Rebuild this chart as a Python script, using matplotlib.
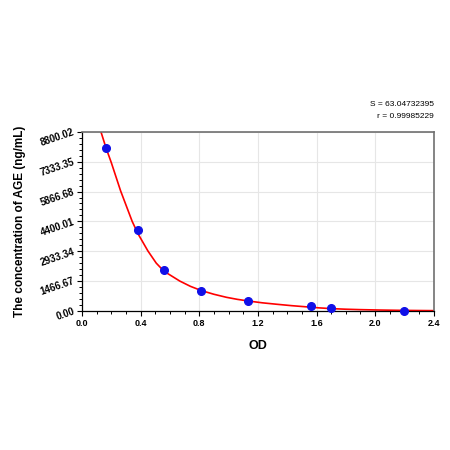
import numpy as np
import matplotlib.pyplot as plt
from matplotlib.ticker import AutoMinorLocator

plt.rcParams['font.family'] = ['Liberation Sans', 'DejaVu Sans']

# standard points (OD vs concentration)
od = [0.165, 0.380, 0.560, 0.815, 1.136, 1.563, 1.697, 2.195]
conc = [8000, 4000, 2000, 1000, 500, 250, 125, 0]

# fitted curve
curve_od = [0.130, 0.165, 0.200, 0.264, 0.343, 0.382, 0.450, 0.507, 0.560,
            0.668, 0.740, 0.815, 0.900, 0.986, 1.060, 1.134, 1.230, 1.327,
            1.430, 1.543, 1.620, 1.700, 1.800, 1.895, 2.030, 2.168, 2.280, 2.400]
curve_conc = [8800, 8000, 7300, 5900, 4400, 3800, 2950, 2350, 1950,
              1467, 1210, 1000, 820, 670, 570, 490, 400, 330,
              260, 195, 150, 115, 85, 65, 45, 30, 22, 15]

yticks = [0.00, 1466.67, 2933.34, 4400.01, 5866.68, 7333.35, 8800.02]
xticks = [0.0, 0.4, 0.8, 1.2, 1.6, 2.0, 2.4]

fig = plt.figure(figsize=(4.5, 4.5), dpi=100)
ax = fig.add_axes([0.182, 0.309, 0.782, 0.398])

ax.grid(True, color='#e6e6e6', linewidth=0.8, zorder=0)
ax.plot(curve_od, curve_conc, color='red', linewidth=1.2, zorder=2)
ax.plot(od, conc, 'o', color='#1010e8', markersize=5.5, zorder=3, clip_on=False)

ax.set_xlim(0, 2.4)
ax.set_ylim(0, 8800.02)
ax.set_xticks(xticks)
ax.set_xticklabels([f'{t:.1f}' for t in xticks], fontsize=6.5, fontweight='bold')
ax.set_yticks(yticks)
ax.set_yticklabels([f'{t:.2f}' for t in yticks], fontsize=7, fontweight='bold',
                   rotation=19, ha='right', va='center', rotation_mode='anchor')
ax.xaxis.set_minor_locator(AutoMinorLocator(4))
ax.yaxis.set_minor_locator(AutoMinorLocator(5))
ax.tick_params(which='major', length=3.5, width=0.8, direction='out')
ax.tick_params(axis='y', which='major', pad=2)
ax.tick_params(axis='x', which='major', pad=2)
ax.tick_params(which='minor', length=2, width=0.7, direction='out')
ax.tick_params(top=False, right=False, which='both')

for s in ['top', 'right']:
    ax.spines[s].set_color('#707070')
    ax.spines[s].set_linewidth(1.2)
for s in ['left', 'bottom']:
    ax.spines[s].set_color('black')
    ax.spines[s].set_linewidth(0.9)

ax.set_xlabel('OD', fontsize=9, fontweight='bold', labelpad=9)
ax.set_ylabel('The concentration of AGE (ng/mL)', fontsize=8.5, fontweight='bold', labelpad=9)

fig.text(0.964, 0.767, 'S = 63.04732395', fontsize=6, ha='right', va='center')
fig.text(0.964, 0.741, 'r = 0.99985229', fontsize=6, ha='right', va='center')

plt.savefig('out.png', dpi=100)
